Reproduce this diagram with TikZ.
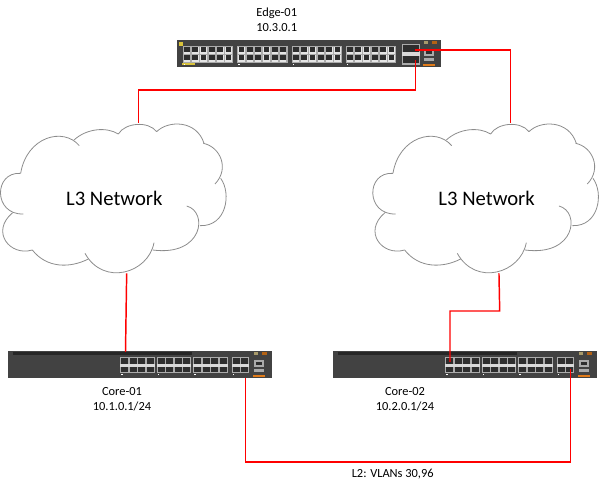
\documentclass[tikz,border=0pt]{standalone}
\usepackage{fontspec}
\setmainfont{Carlito}
\definecolor{bodygrey}{HTML}{424242}
\definecolor{portlight}{HTML}{ABABAB}
\definecolor{portdark}{HTML}{2E2E2E}
\definecolor{cloudgrey}{HTML}{8C8C8C}
\definecolor{tagorange}{HTML}{E07B1A}
\definecolor{tagyellow}{HTML}{D8C23A}
\definecolor{tagtan}{HTML}{A89A6A}
\tikzset{
    swbody/.style = {fill=bodygrey, draw=none, anchor=north west, inner sep=0pt,
        minimum width=198pt, minimum height=20.25pt},
    cloudline/.style = {draw=cloudgrey, line width=0.6pt},
    mgmt/.pic = {
        \fill[portlight] (#1,9.5) rectangle ++(10,7);
        \fill[portdark] (#1+2,11) rectangle ++(6,3.5);
        \fill[portlight] (#1,18) rectangle ++(10,3.5);
        \fill[tagorange] (#1-1,24) rectangle ++(12,1.6);
        \fill[tagtan] (#1,1.5) rectangle ++(4,2.5);
        \fill[tagorange!80!black] (#1+8,1.5) rectangle ++(5,2.5);
    },
    edgeswitch/.pic = {
        \node[swbody] (-body) at (0,0) {};
        \fill[tagyellow] (2,2) rectangle ++(3.5,4);
        \fill[tagyellow] (5,23) rectangle ++(13,1.8);
        \foreach \gx in {5.7,60.3,114.7,168.7} {
            \fill[portlight] (\gx,6.2) rectangle ++(50.4,16.6);
            \foreach \p in {0,...,5} {
                \foreach \ry in {7,15} {
                    \fill[white!90!black] (\gx+\p*8.33+0.9,\ry) rectangle ++(6.6,7);
                    \fill[portdark] (\gx+\p*8.33+1.4,\ry+0.5) rectangle ++(5.6,4.4);
                }
            }
            \fill[white] (\gx+1,24) rectangle ++(1.5,1.2);
        }
        \fill[portlight] (224.7,4) rectangle ++(18.6,21);
        \fill[white!85!black] (225.2,12) rectangle ++(17.6,4);
        \foreach \p in {0,1} {
            \fill[portdark] (225.7+\p*8.6,5.5) rectangle ++(8,6.5);
            \fill[portdark] (225.7+\p*8.6,16) rectangle ++(8,7);
        }
        \pic at (0,0) {mgmt=247};
    },
    coreswitch/.pic = {
        \node[swbody] (-body) at (0,0) {};
        \fill[black!85] (5,1.2) rectangle (184,3.8);
        \foreach \gx/\n in {112/3,148.7/3,185/3,223.7/1} {
            \fill[portlight] (\gx,6) rectangle ++({(\n+1)*8.5+0.5},16);
            \fill[white!85!black] (\gx,13) rectangle ++({(\n+1)*8.5+0.5},3);
            \foreach \p in {0,...,\n} {
                \fill[portdark] (\gx+\p*8.5+1,7) rectangle ++(7,5.8);
                \fill[portdark] (\gx+\p*8.5+1,16.2) rectangle ++(7,5);
            }
            \fill[white] (\gx+1,23.2) rectangle ++(1.5,1.2);
        }
        \pic at (0,0) {mgmt=246};
    },
    cloudshape/.pic = {
        \begin{scope}[x=0.25pt, y=-0.25pt]
            \draw[cloudline] (62,190) .. controls (80,80) and (190,50) .. (238,107);
            \draw[cloudline] (222,90) .. controls (260,55) and (320,50) .. (355,72);
            \draw[cloudline] (355,72) .. controls (375,38) and (445,32) .. (470,65);
            \draw[cloudline] (470,65) .. controls (505,30) and (590,30) .. (612,100);
            \draw[cloudline] (610,100) .. controls (660,110) and (690,175) .. (645,222);
            \draw[cloudline] (662,205) .. controls (695,250) and (680,350) .. (600,347);
            \draw[cloudline] (560,288) .. controls (625,305) and (610,440) .. (458,420);
            \draw[cloudline] (462,398) .. controls (445,490) and (310,530) .. (255,430);
            \draw[cloudline] (265,447) .. controls (210,475) and (140,475) .. (97,420);
            \draw[cloudline] (97,420) .. controls (30,440) and (-30,365) .. (38,308);
            \draw[cloudline] (70,312) .. controls (-20,315) and (-20,185) .. (62,190);
            \coordinate (-top) at (415,40);
            \coordinate (-bottom) at (380,490);
            \node[font=\fontsize{15.5}{18}\selectfont, inner sep=0pt] (-text) at (343,265) {L3 Network};
        \end{scope}
    }
}
\begin{document}
\begin{tikzpicture}[x=0.75pt, y=-0.75pt,
        redlink/.style = {draw=red, line width=1.1pt, line join=miter},
        swlabel/.style = {align=center, inner sep=0pt,
            font=\fontsize{9.3}{11.25}\selectfont}]
    \useasboundingbox (0,0) rectangle (600,488);

    \pic (edge) at (177,40) {edgeswitch};
    \pic (coreA) at (8,351) {coreswitch};
    \pic (coreB) at (333,351) {coreswitch};
    \pic (cloudL) at (0,110) {cloudshape};
    \pic (cloudR) at (372.3,110) {cloudshape};

    \node[swlabel] (edgelabel) at (276.7,19.5) {Edge-01\\10.3.0.1};
    \node[swlabel] (coreAlabel) at (122,399) {Core-01\\10.1.0.1/24};
    \node[swlabel] (coreBlabel) at (405,399) {Core-02\\10.2.0.1/24};
    \node[swlabel] (vlanlabel) at (392.7,474) {L2: VLANs 30,96};

    % ports and bends
    \coordinate (edgeportA) at (415.7,60);
    \coordinate (edgeportB) at (415,50);
    \coordinate (coreAup) at (125.5,352);
    \coordinate (coreAport) at (245.5,378);
    \coordinate (coreBup) at (450,362);
    \coordinate (coreBport) at (570.7,369);
    \coordinate (bendA) at (415.7,90);
    \coordinate (bendB) at (499.7,311);
    \coordinate (bendC) at (245.5,462);

    \draw[redlink] (edgeportA) -- (bendA) -| (cloudL-top);
    \draw[redlink] (edgeportB) -| (cloudR-top);
    \draw[redlink] (cloudL-bottom) -- (coreAup);
    \draw[redlink] (cloudR-bottom) -- (bendB) -| (coreBup);
    \draw[redlink] (coreAport) -- (bendC) -| (coreBport);
\end{tikzpicture}
\end{document}
